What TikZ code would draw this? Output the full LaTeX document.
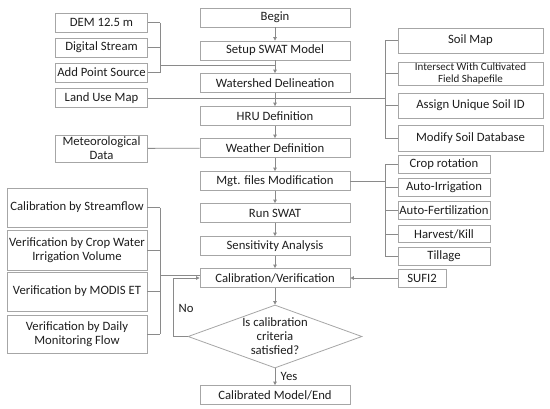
\documentclass[tikz,border=0pt]{standalone}
\usepackage{fontspec}
\setmainfont{Carlito}
\usetikzlibrary{shapes.geometric,arrows.meta}

\begin{document}
\begin{tikzpicture}[x=1pt,y=-1pt]
\definecolor{flowLine}{HTML}{8A8A8A}
\definecolor{flowEdge}{HTML}{A6A6A6}
\definecolor{flowText}{HTML}{1E1E1E}
\tikzset{
  flowbox/.style={draw=flowEdge,fill=white,line width=0.8pt,inner sep=1pt,align=center,
    text=flowText,font=\fontsize{12.7}{14}\selectfont},
  mainbox/.style={flowbox,minimum width=150pt,minimum height=19pt},
  inbox/.style={flowbox,minimum width=92pt,minimum height=19pt},
  soilbox/.style={flowbox,minimum width=145pt,minimum height=25pt},
  mgtbox/.style={flowbox,minimum width=92pt,minimum height=17.5pt},
  checkbox/.style={flowbox,minimum width=140pt,minimum height=39pt},
  wire/.style={draw=flowLine,line width=0.8pt},
  arrow/.style={wire,-{Triangle[length=3.5pt,width=3.5pt]}}
}
\useasboundingbox (0,0) rectangle (550,408);
% main column
\foreach \name/\y/\lab in {begin/17.5/Begin, setup/50.5/Setup SWAT Model,
  shed/83/Watershed Delineation, hru/116/HRU Definition,
  weather/148/Weather Definition, mgt/181/Mgt. files Modification,
  run/213/Run SWAT, sens/246/Sensitivity Analysis,
  calib/278/{Calibration/Verification}, final/395/{Calibrated Model/End}}
  \node[mainbox] (\name) at (275,\y) {\lab};
\node[flowbox,diamond,aspect=2.76,inner sep=0pt,minimum width=174pt,minimum height=63pt]
  (check) at (275,336.5) {Is calibration\\criteria\\satisfied?};
\foreach \a/\b in {begin/setup,setup/shed,shed/hru,hru/weather,weather/mgt,
  mgt/run,run/sens,sens/calib,calib/check}
  \draw[arrow] (\a) -- (\b);
\draw[arrow] (check) -- node[right=2pt,text=flowText,font=\fontsize{12.7}{14}\selectfont] {Yes} (final);
% model inputs
\foreach \name/\y/\lab in {dem/22.5/DEM 12.5 m, stream/47.5/Digital Stream,
  point/72.5/Add Point Source, landuse/98/Land Use Map}
  \node[inbox] (\name) at (101.5,\y) {\lab};
\node[inbox,minimum height=27pt] (met) at (101.5,148.5) {Meteorological\\Data};
\coordinate (demBus) at (160,65);
\foreach \name in {dem,stream,point}
  \draw[wire] (\name.east) -- (\name.east -| demBus);
\draw[wire] (dem.east -| demBus) -- (point.east -| demBus);
\draw[wire] (demBus) -- (demBus -| setup);
\draw[wire] (met) -- (weather);
% soil data
\node[soilbox] (soil) at (470.5,40.5) {Soil Map};
\node[soilbox,minimum height=23pt,font=\fontsize{11}{11.5}\selectfont] (inter) at (470.5,73.5)
  {Intersect With Cultivated\\Field Shapefile};
\node[soilbox] (assign) at (470.5,105.5) {Assign Unique Soil ID};
\node[soilbox,minimum height=26pt] (modify) at (470.5,138.5) {Modify Soil Database};
\coordinate (soilBus) at (385,98);
\foreach \name in {soil,inter,assign,modify}
  \draw[wire] (\name.west) -- (\name.west -| soilBus);
\draw[wire] (soil.west -| soilBus) -- (modify.west -| soilBus);
\draw[wire] (landuse.east) -- (soilBus);
% management operations
\foreach \name/\y/\lab in {crop/164.5/Crop rotation, irr/187.5/Auto-Irrigation,
  fert/210.5/Auto-Fertilization, harv/234/{Harvest/Kill}, till/256.5/Tillage}
  \node[mgtbox] (\name) at (444,\y) {\lab};
\coordinate (mgtBus) at (385,181);
\foreach \name in {crop,irr,fert,harv,till}
  \draw[wire] (\name.west) -- (\name.west -| mgtBus);
\draw[wire] (crop.west -| mgtBus) -- (till.west -| mgtBus);
\draw[wire] (mgt.east) -- (mgtBus);
\node[flowbox,minimum width=48pt,minimum height=18pt] (sufi) at (422,278) {SUFI2};
\draw[arrow] (sufi) -- (calib);
% calibration and verification data
\node[checkbox] (cstream) at (77,207.5) {Calibration by Streamflow};
\node[checkbox,minimum height=40pt] (vcrop) at (77,250) {Verification by Crop Water\\Irrigation Volume};
\node[checkbox] (vmodis) at (77,291.5) {Verification by MODIS ET};
\node[checkbox,minimum height=38pt] (vdaily) at (77,334) {Verification by Daily\\Monitoring Flow};
\coordinate (checkBus) at (160,275);
\foreach \name in {cstream,vcrop,vmodis,vdaily}
  \draw[wire] (\name.east) -- (\name.east -| checkBus);
\draw[wire] (cstream.east -| checkBus) -- (vdaily.east -| checkBus);
\draw[wire] (checkBus) -- (checkBus -| calib.west);
\coordinate (loopBend) at (173,336.5);
\draw[arrow] (check.west) -- (loopBend) -- (loopBend |- calib.west) -- (calib.west);
\node[text=flowText,font=\fontsize{12.7}{14}\selectfont] (no) at (186,308) {No};
\end{tikzpicture}
\end{document}
